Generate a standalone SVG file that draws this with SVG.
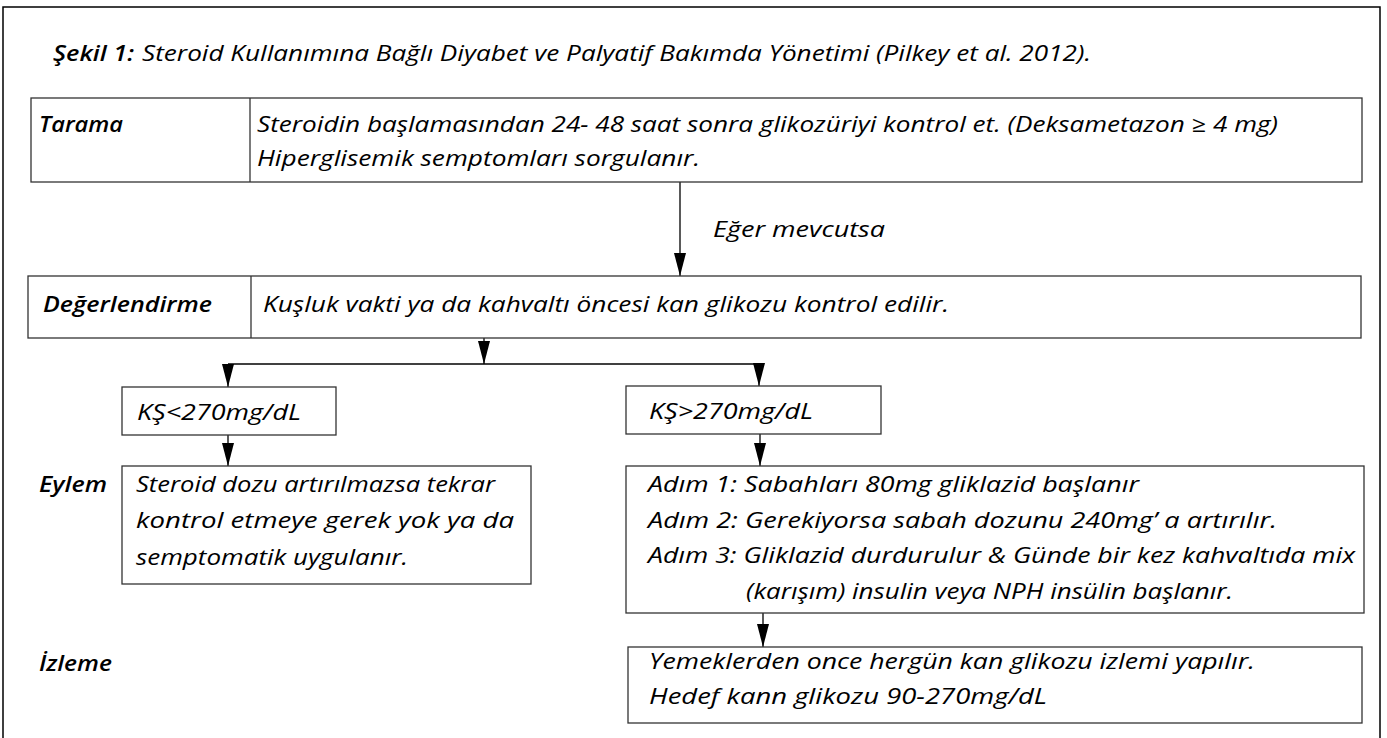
<svg xmlns="http://www.w3.org/2000/svg" width="1387" height="738" viewBox="0 0 1387 738">
<defs>
<style>
.t{font-family:"Open Sans","Liberation Sans",sans-serif;font-style:italic;font-size:22px;fill:#000}
.l{font-family:"Open Sans","Liberation Sans",sans-serif;font-style:italic;font-weight:600;font-size:22px;fill:#000}
.b{fill:#fff;stroke:#333;stroke-width:1.3}
.d{stroke:#333;stroke-width:1.3}
.c{fill:none;stroke:#000;stroke-width:1.3}
</style>
<marker id="ah" markerWidth="23" markerHeight="12" refX="23" refY="6" orient="auto" markerUnits="userSpaceOnUse" viewBox="0 0 23 12">
<path d="M0,0 L23,6 L0,12 Z" fill="#000"/>
</marker>
</defs>
<rect x="0" y="0" width="1387" height="738" fill="#fff"/>
<path d="M3,745 L3,7 L1380,7 L1380,745" fill="none" stroke="#000" stroke-width="1.5"/>
<g id="title">
<text class="l" x="53" y="61" textLength="81" lengthAdjust="spacingAndGlyphs">Şekil 1:</text>
<text class="t" x="142" y="61" textLength="949" lengthAdjust="spacingAndGlyphs">Steroid Kullanımına Bağlı Diyabet ve Palyatif Bakımda Yönetimi (Pilkey et al. 2012).</text>
</g>
<g id="connectors">
<line class="c" x1="680" y1="182" x2="680" y2="276" marker-end="url(#ah)"/>
<line class="c" x1="484" y1="338" x2="484" y2="364" marker-end="url(#ah)"/>
<polyline class="c" points="228,364 759,364"/>
<line class="c" x1="228" y1="364" x2="228" y2="387" marker-end="url(#ah)"/>
<line class="c" x1="759" y1="364" x2="759" y2="386" marker-end="url(#ah)"/>
<line class="c" x1="228" y1="435" x2="228" y2="466" marker-end="url(#ah)"/>
<line class="c" x1="760" y1="434" x2="760" y2="466" marker-end="url(#ah)"/>
<line class="c" x1="763" y1="613" x2="763" y2="647" marker-end="url(#ah)"/>
<text class="t" x="713" y="237" textLength="172" lengthAdjust="spacingAndGlyphs">Eğer mevcutsa</text>
</g>
<g id="tarama">
<rect class="b" x="31" y="98" width="1331" height="84"/>
<line class="d" x1="250" y1="98" x2="250" y2="182"/>
<text class="l" x="39" y="132" textLength="84" lengthAdjust="spacingAndGlyphs">Tarama</text>
<text class="t" x="257" y="132" textLength="1021" lengthAdjust="spacingAndGlyphs">Steroidin başlamasından 24- 48 saat sonra glikozüriyi kontrol et. (Deksametazon ≥ 4 mg)</text>
<text class="t" x="257" y="166" textLength="443" lengthAdjust="spacingAndGlyphs">Hiperglisemik semptomları sorgulanır.</text>
</g>
<g id="degerlendirme">
<rect class="b" x="28" y="276" width="1333" height="62"/>
<line class="d" x1="251" y1="276" x2="251" y2="338"/>
<text class="l" x="43" y="312" textLength="169" lengthAdjust="spacingAndGlyphs">Değerlendirme</text>
<text class="t" x="263" y="312" textLength="686" lengthAdjust="spacingAndGlyphs">Kuşluk vakti ya da kahvaltı öncesi kan glikozu kontrol edilir.</text>
</g>
<g id="ks-low">
<rect class="b" x="122" y="387" width="214" height="48"/>
<text class="t" x="137" y="420" textLength="164" lengthAdjust="spacingAndGlyphs">KŞ&lt;270mg/dL</text>
</g>
<g id="ks-high">
<rect class="b" x="626" y="386" width="255" height="48"/>
<text class="t" x="649" y="419" textLength="164" lengthAdjust="spacingAndGlyphs">KŞ&gt;270mg/dL</text>
</g>
<g id="eylem-label">
<text class="l" x="39" y="492" textLength="68" lengthAdjust="spacingAndGlyphs">Eylem</text>
</g>
<g id="eylem-low">
<rect class="b" x="122" y="466" width="409" height="118"/>
<text class="t" x="136" y="492" textLength="359" lengthAdjust="spacingAndGlyphs">Steroid dozu artırılmazsa tekrar</text>
<text class="t" x="136" y="528" textLength="378" lengthAdjust="spacingAndGlyphs">kontrol etmeye  gerek yok ya da</text>
<text class="t" x="136" y="565" textLength="272" lengthAdjust="spacingAndGlyphs">semptomatik uygulanır.</text>
</g>
<g id="eylem-high">
<rect class="b" x="626" y="466" width="738" height="147"/>
<text class="t" x="648" y="492" textLength="491" lengthAdjust="spacingAndGlyphs">Adım 1:  Sabahları 80mg gliklazid başlanır</text>
<text class="t" x="648" y="528" textLength="629" lengthAdjust="spacingAndGlyphs">Adım  2: Gerekiyorsa sabah dozunu 240mg’ a artırılır.</text>
<text class="t" x="648" y="563" textLength="707" lengthAdjust="spacingAndGlyphs">Adım 3: Gliklazid durdurulur &amp; Günde bir kez kahvaltıda mix</text>
<text class="t" x="746" y="599" textLength="487" lengthAdjust="spacingAndGlyphs">(karışım) insulin veya NPH insülin başlanır.</text>
</g>
<g id="izleme-label">
<text class="l" x="39" y="671" textLength="73" lengthAdjust="spacingAndGlyphs">İzleme</text>
</g>
<g id="izleme">
<rect class="b" x="628" y="647" width="734" height="76"/>
<text class="t" x="649" y="669" textLength="606" lengthAdjust="spacingAndGlyphs">Yemeklerden once hergün kan glikozu izlemi yapılır.</text>
<text class="t" x="649" y="704" textLength="398" lengthAdjust="spacingAndGlyphs">Hedef kann glikozu 90-270mg/dL</text>
</g>
</svg>
